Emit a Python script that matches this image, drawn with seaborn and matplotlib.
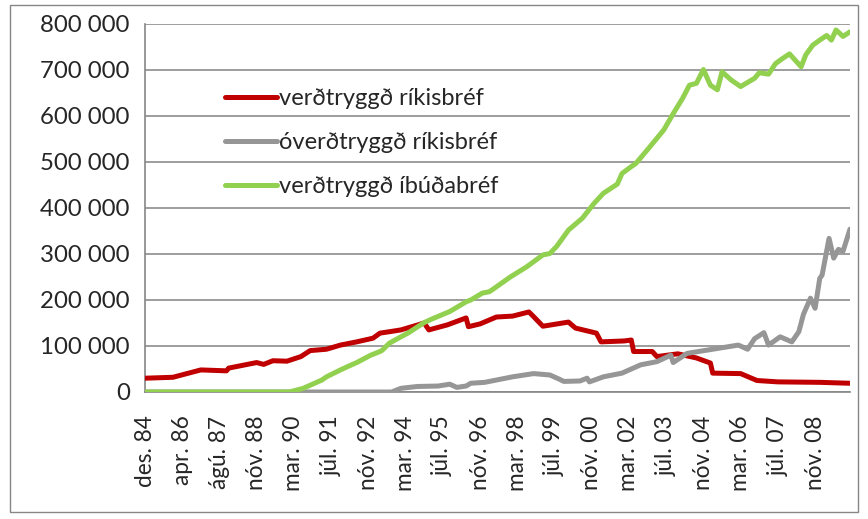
"""
plot.py - íslensk skuldabréf, staða frá des. 1984
"""

import matplotlib
matplotlib.use("Agg")
import matplotlib.pyplot as plt
import matplotlib.ticker as mticker
import pandas as pd
import seaborn as sns

# month index since des. 84, values in thousands
red_months = [0, 12, 24, 35, 36, 48, 51, 55, 61, 67, 71, 78, 84, 91, 98, 101, 105, 110,
              120, 122, 130, 138, 139, 144, 151, 158, 165, 167, 171, 182, 185, 194, 196,
              206, 209, 210, 218, 220, 229, 237, 243, 244, 256, 263, 272, 290, 303]
red_values = [30, 32, 48, 46, 52, 64, 60, 68, 67, 77, 90, 93, 102, 109, 117, 128, 131, 135,
              150, 135, 146, 161, 142, 148, 163, 165, 174, 164, 143, 152, 139, 128, 109,
              111, 113, 88, 88, 77, 83, 74, 63, 41, 40, 25, 22, 21, 19]

gray_months = [0, 106, 110, 117, 126, 131, 134, 138, 140, 146, 151, 158, 167, 174, 178,
               180, 187, 190, 191, 197, 205, 213, 220, 226, 227, 233, 244, 255, 259, 262,
               266, 268, 273, 278, 281, 283, 286, 288, 290, 291, 294, 296, 298, 300, 303]
gray_values = [0, 0, 8, 12, 13, 17, 10, 13, 19, 21, 26, 33, 40, 37, 28,
               23, 24, 30, 22, 33, 41, 59, 66, 80, 64, 84, 93, 102, 93, 116,
               129, 102, 120, 109, 131, 169, 204, 182, 247, 254, 334, 291, 310, 306, 354]

green_months = [0, 62, 68, 76, 78, 84, 87, 91, 97, 101, 102, 105, 110, 113, 120, 123, 131,
                138, 140, 145, 148, 150, 157, 164, 171, 174, 177, 182, 188, 193, 197, 203,
                205, 209, 211, 217, 223, 227, 231, 234, 237, 240, 243, 246, 248, 252, 256,
                262, 264, 268, 271, 274, 277, 282, 284, 287, 290, 293, 295, 297, 300, 303]
green_values = [0, 0, 8, 26, 33, 48, 55, 64, 80, 88, 91, 106, 120, 128, 151, 158, 175,
                196, 200, 215, 218, 225, 250, 272, 298, 301, 317, 352, 378, 410, 432, 452,
                475, 490, 497, 533, 570, 605, 638, 667, 671, 701, 667, 657, 696, 678, 664,
                682, 694, 691, 714, 725, 735, 707, 733, 754, 765, 775, 765, 787, 773, 783]

series_names = ["verðtryggð ríkisbréf", "óverðtryggð ríkisbréf", "verðtryggð íbúðabréf"]
series_colors = ["#C00000", "#969696", "#92D050"]

tick_labels = ["des. 84", "apr. 86", "ágú. 87", "nóv. 88", "mar. 90", "júl. 91", "nóv. 92",
               "mar. 94", "júl. 95", "nóv. 96", "mar. 98", "júl. 99", "nóv. 00", "mar. 02",
               "júl. 03", "nóv. 04", "mar. 06", "júl. 07", "nóv. 08"]

frames = []
for name, months, values in zip(series_names,
                                [red_months, gray_months, green_months],
                                [red_values, gray_values, green_values]):
    frames.append(pd.DataFrame({"month": months,
                                "value": [v * 1000 for v in values],
                                "series": name}))
df = pd.concat(frames, ignore_index=True)

sns.set_style("white")
plt.rcParams["font.family"] = ["Lato", "DejaVu Sans"]

fig = plt.figure(figsize=(8.68, 5.19), dpi=100)
ax = fig.add_axes([145 / 868, 1 - 392 / 519, 705 / 868, 368 / 519])

# chart border
fig.add_artist(plt.Rectangle((10 / 868, 1 - 512 / 519), 848 / 868, 507 / 519,
                             transform=fig.transFigure, fill=False,
                             edgecolor="#868686", linewidth=1))

sns.lineplot(data=df, x="month", y="value", hue="series", hue_order=series_names,
             palette=series_colors, linewidth=3.6, ax=ax, legend=True, zorder=3)

ax.set_xlim(0, 303)
ax.set_ylim(0, 800000)
ax.set_xticks(range(0, 16 * len(tick_labels), 16))
ax.set_xticklabels(tick_labels, rotation=90, fontsize=16.3)
ax.yaxis.set_major_locator(mticker.MultipleLocator(100000))
ax.yaxis.set_major_formatter(mticker.FuncFormatter(
    lambda v, p: f"{int(v):,}".replace(",", " ")))
ax.tick_params(axis="y", labelsize=17.3, length=5, color="#868686", width=1, pad=6)
ax.tick_params(axis="x", length=6, color="#868686", width=1, pad=11)
ax.grid(axis="y", color="#8c8c8c", linewidth=1.2)
ax.set_axisbelow(True)
for side in ["top", "right"]:
    ax.spines[side].set_visible(False)
for side in ["left", "bottom"]:
    ax.spines[side].set_color("#868686")
    ax.spines[side].set_linewidth(1.2)
ax.set_xlabel("")
ax.set_ylabel("")

handles, labels = ax.get_legend_handles_labels()
ax.legend(handles, labels, loc="upper left", bbox_to_anchor=(0.1, 0.852),
          frameon=False, fontsize=17, handlelength=2.2, handletextpad=0.1,
          labelspacing=0.98, borderaxespad=0)

fig.savefig("out.png", dpi=100)
